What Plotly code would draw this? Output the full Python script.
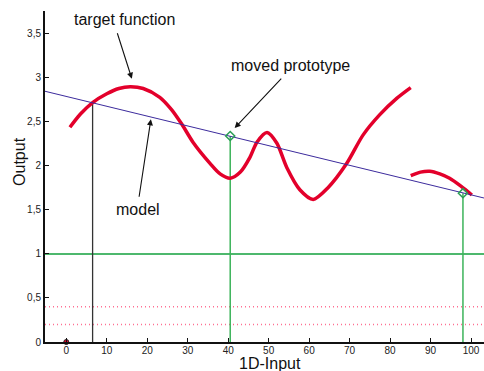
import plotly.graph_objects as go

# Target function, sampled along its two pieces
target_x1 = [0.9, 3.5, 6.5, 10, 13, 15.8, 19, 23.1, 26, 28.6, 31.3, 35.5, 38, 40.5, 43, 45.4, 47.1, 49.6, 52, 54.5, 57.7, 61, 64.6, 69.3, 73.3, 77.4, 81.7, 85.1]
target_y1 = [2.44, 2.59, 2.72, 2.82, 2.88, 2.90, 2.88, 2.78, 2.64, 2.47, 2.27, 2.03, 1.91, 1.86, 1.93, 2.10, 2.27, 2.38, 2.26, 1.98, 1.73, 1.62, 1.75, 2.03, 2.35, 2.58, 2.77, 2.89]
target_x2 = [85.1, 87.5, 89.8, 92.3, 94.7, 97.5, 100.2]
target_y2 = [1.89, 1.93, 1.94, 1.91, 1.86, 1.77, 1.67]

# Linear model (end points)
model_x = [-6, 104]
model_y = [2.857, 1.627]

# Prototypes: the fixed one and the moved ones
proto_fixed_x = [6.5]
proto_fixed_y = [2.72]
proto_moved_x = [40.5, 98]
proto_moved_y = [2.34, 1.69]

# Reference levels
level_solid = 1.0
levels_dotted = [0.2, 0.4]

x_ticks = list(range(0, 101, 10))
y_ticks = [0, 0.5, 1, 1.5, 2, 2.5, 3, 3.5]

XR = [-5.26, 103.2]
YR = [0, 3.76]

FONT = "Liberation Sans, Arial, Helvetica, sans-serif"

fig = go.Figure()

# dotted lower levels
for lv in levels_dotted:
    fig.add_trace(go.Scatter(x=XR, y=[lv, lv], mode="lines",
                             line=dict(color="#ff6f93", width=1.5, dash="1px,3px"),
                             hoverinfo="skip"))

# solid level at 1
fig.add_trace(go.Scatter(x=XR, y=[level_solid, level_solid], mode="lines",
                         line=dict(color="#12a03c", width=1.5), hoverinfo="skip"))

# fixed prototype drop line
for px, py in zip(proto_fixed_x, proto_fixed_y):
    fig.add_trace(go.Scatter(x=[px, px], y=[0, py], mode="lines",
                             line=dict(color="#333333", width=1.3), hoverinfo="skip"))

# moved prototype drop lines
for px, py in zip(proto_moved_x, proto_moved_y):
    fig.add_trace(go.Scatter(x=[px, px], y=[0, py], mode="lines",
                             line=dict(color="#3cb35a", width=1.5), hoverinfo="skip"))

# target function
fig.add_trace(go.Scatter(x=target_x1, y=target_y1, mode="lines",
                         line=dict(color="#e3002b", width=3.5, shape="spline", smoothing=0.8),
                         hoverinfo="skip"))
fig.add_trace(go.Scatter(x=target_x2, y=target_y2, mode="lines",
                         line=dict(color="#e3002b", width=3.5, shape="spline", smoothing=0.8),
                         hoverinfo="skip"))

# model line
fig.add_trace(go.Scatter(x=model_x, y=model_y, mode="lines",
                         line=dict(color="#3b2a9c", width=1.1), hoverinfo="skip"))

# prototype markers
fig.add_trace(go.Scatter(x=proto_moved_x, y=proto_moved_y, mode="markers",
                         marker=dict(symbol="diamond-open", size=7,
                                     color="#2a9e55", line=dict(width=1.5)),
                         hoverinfo="skip"))
fig.add_trace(go.Scatter(x=[0], y=[0], mode="markers",
                         marker=dict(symbol="circle", size=5, color="#e3002b",
                                     line=dict(color="#222222", width=1)),
                         cliponaxis=False, hoverinfo="skip"))

ann_font = dict(family=FONT, size=16, color="#111111")
annotations = [
    dict(x=16.2, y=2.99, ax=-15, ay=-47, text="", showarrow=True,
         arrowhead=2, arrowsize=1.1, arrowwidth=1.1, arrowcolor="#111111"),
    dict(x=41.6, y=2.43, ax=48, ay=-51, text="", showarrow=True,
         arrowhead=2, arrowsize=1.1, arrowwidth=1.1, arrowcolor="#111111"),
    dict(x=20.9, y=2.53, ax=-12, ay=79, text="", showarrow=True,
         arrowhead=2, arrowsize=1.1, arrowwidth=1.1, arrowcolor="#111111"),
    dict(x=14.5, y=3.66, text="target function", showarrow=False, font=ann_font),
    dict(x=55.4, y=3.14, text="moved prototype", showarrow=False, font=ann_font),
    dict(x=17.7, y=1.50, text="model", showarrow=False, font=ann_font),
    # axis titles
    dict(xref="paper", yref="paper", x=0.5125, y=-0.066, text="1D-Input",
         showarrow=False, font=ann_font, xanchor="center", yanchor="middle",
         borderpad=0),
    dict(xref="paper", yref="paper", x=-0.057, y=0.547, text="Output",
         showarrow=False, font=ann_font, textangle=-90,
         xanchor="center", yanchor="middle"),
]

fig.update_layout(
    width=484, height=371,
    margin=dict(l=45, r=0, t=11, b=29),
    paper_bgcolor="white", plot_bgcolor="white",
    showlegend=False,
    separators=",.",
    font=dict(family=FONT, size=10, color="#222222"),
    annotations=annotations,
    xaxis=dict(range=XR, tickvals=x_ticks, ticks="inside", ticklen=4,
               tickcolor="#111111", showline=True, linecolor="#111111",
               linewidth=2, showgrid=False, zeroline=False,
               ticklabelstandoff=-2,
               tickfont=dict(size=10)),
    yaxis=dict(range=YR, tickvals=y_ticks, ticks="inside", ticklen=4,
               tickcolor="#111111", showline=True, linecolor="#111111",
               linewidth=2, showgrid=False, zeroline=False,
               tickfont=dict(size=10)),
)

fig.write_html("out.html")
